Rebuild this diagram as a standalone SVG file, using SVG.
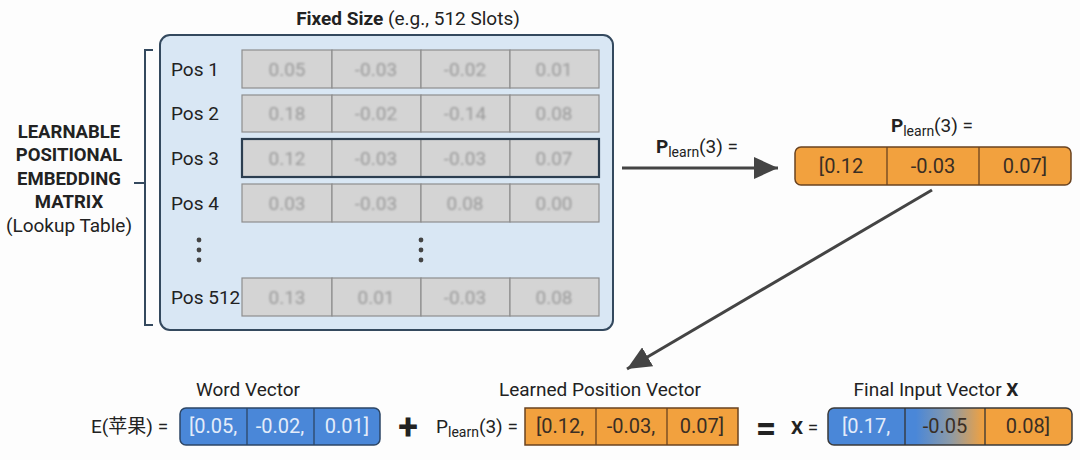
<svg xmlns="http://www.w3.org/2000/svg" width="1080" height="460" viewBox="0 0 1080 460">
<style>
text{font-family:Roboto,"Liberation Sans","Noto Sans CJK SC",sans-serif;fill:#222}
.lbl{font-size:19px;text-anchor:middle}
.side{font-size:18.5px;font-weight:bold;text-anchor:middle}
.pos{font-size:19px}
.cell{fill:#d4d4d4;stroke:#8e8e8e;stroke-width:1.2}
.num{font-size:19px;fill:#9a9a9a;text-anchor:middle;filter:url(#blur)}
.vt{font-size:20px;text-anchor:middle}
.light{fill:#e3ecfa}
.dark{fill:#3a2e24}
.blue{fill:#4a87d8;stroke:#2c4666;stroke-width:1.5}
.orange{fill:#f2a13e;stroke:#6a4320;stroke-width:1.5}
.div{stroke-width:1.3}
.arrow{stroke:#444;stroke-width:3;fill:none}
</style>
<defs>
<filter id="blur" x="-10%" y="-30%" width="120%" height="160%"><feGaussianBlur stdDeviation="0.8"/></filter>
<marker id="ah" markerUnits="userSpaceOnUse" markerWidth="26" markerHeight="22" refX="24" refY="11" orient="auto"><path d="M0,0 L24,11 L0,22 Z" fill="#444"/></marker>
<linearGradient id="mix" x1="0" y1="0" x2="1" y2="0"><stop offset="0" stop-color="#4a87d8"/><stop offset="0.36" stop-color="#4a87d8"/><stop offset="0.5" stop-color="#8b9aa8"/><stop offset="0.64" stop-color="#f2a13e"/><stop offset="1" stop-color="#f2a13e"/></linearGradient>
</defs>
<rect width="1080" height="460" fill="#fdfdfd"/>

<g id="matrix">
<text x="408" y="25" class="lbl" font-size="18.5"><tspan font-weight="bold">Fixed Size</tspan> (e.g., 512 Slots)</text>
<rect x="160" y="35" width="453" height="295" rx="10" fill="#d9e7f4" stroke="#34495e" stroke-width="2"/>
<g id="row1">
<text x="171" y="76" class="pos">Pos 1</text>
<rect class="cell" x="242" y="50" width="90" height="38"/><rect class="cell" x="332" y="50" width="89" height="38"/><rect class="cell" x="421" y="50" width="89" height="38"/><rect class="cell" x="510" y="50" width="89" height="38"/>
<text class="num" x="287" y="76">0.05</text><text class="num" x="376" y="76">-0.03</text><text class="num" x="465" y="76">-0.02</text><text class="num" x="554" y="76">0.01</text>
</g>
<g id="row2">
<text x="171" y="120" class="pos">Pos 2</text>
<rect class="cell" x="242" y="95" width="90" height="37"/><rect class="cell" x="332" y="95" width="89" height="37"/><rect class="cell" x="421" y="95" width="89" height="37"/><rect class="cell" x="510" y="95" width="89" height="37"/>
<text class="num" x="287" y="120">0.18</text><text class="num" x="376" y="120">-0.02</text><text class="num" x="465" y="120">-0.14</text><text class="num" x="554" y="120">0.08</text>
</g>
<g id="row3">
<text x="171" y="165" class="pos">Pos 3</text>
<rect class="cell" x="242" y="139" width="90" height="38"/><rect class="cell" x="332" y="139" width="89" height="38"/><rect class="cell" x="421" y="139" width="89" height="38"/><rect class="cell" x="510" y="139" width="89" height="38"/>
<rect x="242" y="139" width="357" height="38" fill="none" stroke="#2c3e50" stroke-width="2.2"/>
<text class="num" x="287" y="165">0.12</text><text class="num" x="376" y="165">-0.03</text><text class="num" x="465" y="165">-0.03</text><text class="num" x="554" y="165">0.07</text>
</g>
<g id="row4">
<text x="171" y="210" class="pos">Pos 4</text>
<rect class="cell" x="242" y="184" width="90" height="38"/><rect class="cell" x="332" y="184" width="89" height="38"/><rect class="cell" x="421" y="184" width="89" height="38"/><rect class="cell" x="510" y="184" width="89" height="38"/>
<text class="num" x="287" y="210">0.03</text><text class="num" x="376" y="210">-0.03</text><text class="num" x="465" y="210">0.08</text><text class="num" x="554" y="210">0.00</text>
</g>
<g id="dots" fill="#444">
<circle cx="199" cy="240" r="2.4"/><circle cx="199" cy="250" r="2.4"/><circle cx="199" cy="260" r="2.4"/>
<circle cx="421" cy="240" r="2.4"/><circle cx="421" cy="250" r="2.4"/><circle cx="421" cy="260" r="2.4"/>
</g>
<g id="row512">
<text x="171" y="304" class="pos">Pos 512</text>
<rect class="cell" x="242" y="278" width="90" height="38"/><rect class="cell" x="332" y="278" width="89" height="38"/><rect class="cell" x="421" y="278" width="89" height="38"/><rect class="cell" x="510" y="278" width="89" height="38"/>
<text class="num" x="287" y="304">0.13</text><text class="num" x="376" y="304">0.01</text><text class="num" x="465" y="304">-0.03</text><text class="num" x="554" y="304">0.08</text>
</g>
</g>

<g id="matrix-label">
<path d="M153,50 H145 V325 H153 M145,183 H134" fill="none" stroke="#34495e" stroke-width="2"/>
<text x="69" y="138" class="side">LEARNABLE</text>
<text x="69" y="161" class="side">POSITIONAL</text>
<text x="69" y="185" class="side">EMBEDDING</text>
<text x="69" y="208" class="side">MATRIX</text>
<text x="69" y="232" class="lbl">(Lookup Table)</text>
</g>

<g id="connectors">
<line class="arrow" x1="622" y1="168" x2="778" y2="168" marker-end="url(#ah)"/>
<line class="arrow" x1="932" y1="190" x2="627" y2="369" marker-end="url(#ah)"/>
<text x="697" y="153" class="lbl" font-size="20"><tspan font-weight="bold">P</tspan><tspan font-size="14" dy="4">learn</tspan><tspan dy="-4">(3) =</tspan></text>
</g>

<g id="p-learn-top">
<text x="932" y="132" class="lbl" font-size="20"><tspan font-weight="bold">P</tspan><tspan font-size="14" dy="4">learn</tspan><tspan dy="-4">(3) =</tspan></text>
<rect class="orange" x="795" y="147" width="276" height="38" rx="6"/>
<line class="div" x1="887" y1="147" x2="887" y2="185" stroke="#6a4320"/>
<line class="div" x1="979" y1="147" x2="979" y2="185" stroke="#6a4320"/>
<text class="vt dark" x="841" y="173">[0.12</text><text class="vt dark" x="933" y="173">-0.03</text><text class="vt dark" x="1025" y="173">0.07]</text>
</g>

<g id="word-vector">
<text x="248" y="396" class="lbl">Word Vector</text>
<text x="91" y="433" font-size="19">E(苹果) =</text>
<rect class="blue" x="180" y="408" width="200" height="37" rx="6"/>
<line class="div" x1="247" y1="408" x2="247" y2="445" stroke="#2c4666"/>
<line class="div" x1="314" y1="408" x2="314" y2="445" stroke="#2c4666"/>
<text class="vt light" x="213" y="433">[0.05,</text><text class="vt light" x="280" y="433">-0.02,</text><text class="vt light" x="347" y="433">0.01]</text>
</g>

<text x="408" y="439" font-size="36" font-weight="bold" text-anchor="middle" fill="#555">+</text>

<g id="learned-position-vector">
<text x="600" y="396" class="lbl">Learned Position Vector</text>
<text x="436" y="433" font-size="19">P<tspan font-size="14" dy="4">learn</tspan><tspan dy="-4">(3) =</tspan></text>
<rect class="orange" x="525" y="408" width="213" height="37"/>
<line class="div" x1="596" y1="408" x2="596" y2="445" stroke="#6a4320"/>
<line class="div" x1="667" y1="408" x2="667" y2="445" stroke="#6a4320"/>
<text class="vt dark" x="560" y="433">[0.12,</text><text class="vt dark" x="631" y="433">-0.03,</text><text class="vt dark" x="702" y="433">0.07]</text>
</g>

<text x="766" y="441" font-size="36" font-weight="bold" text-anchor="middle" fill="#555">=</text>

<g id="final-input-vector">
<text x="936" y="396" class="lbl">Final Input Vector <tspan font-weight="bold">X</tspan></text>
<text x="791" y="434" font-size="19"><tspan font-weight="bold">X</tspan> =</text>
<rect x="828" y="408" width="244" height="37" rx="6" fill="url(#mix)" stroke="#3a3a3a" stroke-width="1.5"/>
<line class="div" x1="905" y1="408" x2="905" y2="445" stroke="#333"/>
<line class="div" x1="985" y1="408" x2="985" y2="445" stroke="#333"/>
<text class="vt light" x="866" y="433">[0.17,</text><text class="vt dark" x="945" y="433">-0.05</text><text class="vt dark" x="1028" y="433">0.08]</text>
</g>
</svg>
